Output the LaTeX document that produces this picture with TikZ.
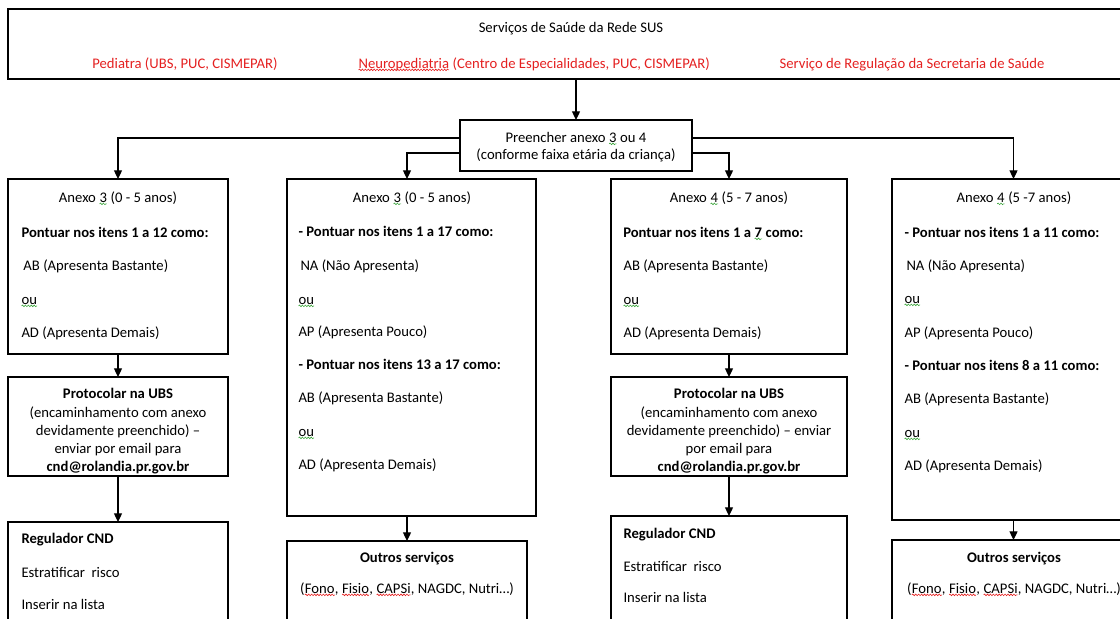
\documentclass[tikz,border=0pt]{standalone}
\usepackage{fontspec}
\setmainfont{Carlito}
\usetikzlibrary{arrows.meta,calc,decorations.pathmorphing}

\definecolor{susred}{RGB}{228,32,32}
\definecolor{spellred}{RGB}{230,30,30}
\definecolor{spellgreen}{RGB}{60,165,60}

\tikzset{every picture/.style={line width=0.75pt}}
\tikzset{
  pxbox/.style 2 args={draw, line width=0.9pt, minimum width=#1*0.75pt, minimum height=#2*0.75pt, anchor=north west, inner sep=0pt, outer sep=0pt},
  txt/.style={inner sep=0pt, text height=10pt, text depth=2.5pt, font=\fontsize{11}{13.4}\selectfont},
  txtl/.style={txt, anchor=west},
  arr/.style={-{Triangle[length=6.5pt,width=6pt]}, line width=0.9pt},
  sqword/.style={anchor=base, inner sep=0pt, outer sep=0pt, text height=, text depth=1.4pt, draw=none},
  sqline/.style={line width=0.45pt, decorate, decoration={snake, amplitude=0.6pt, segment length=2.2pt}}
}
% spell-check wave under a word
\newcommand\squig[2]{\tikz[baseline=(sq.base)]{\node[sqword] (sq) {#2};\draw[sqline,#1] (sq.south west) -- (sq.south east);}}

\begin{document}
\begin{tikzpicture}[x=0.75pt,y=0.75pt,yscale=-1,xscale=1]
\useasboundingbox (0,0) rectangle (1120,618);

%Shape: Rectangle
\node [pxbox={1127}{70}] (sus) at (8,9) {};
% Text Node
\node [txt] (susT) at (571,27) {Serviços de Saúde da Rede SUS};
% Text Node
\node [txt, text=susred] (ped) at (185,63) {Pediatra (UBS, PUC, CISMEPAR)};
% Text Node
\node [txt, text=susred] (neuro) at (534,63) {\squig{spellred}{Neuropediatria} (Centro de Especialidades, PUC, CISMEPAR)};
% Text Node
\node [txt, text=susred] (regul) at (912,63) {Serviço de Regulação da Secretaria de Saúde};

%Shape: Rectangle
\node [pxbox={232}{51}] (pre) at (460,120) {};
% Text Node
\node [txt] (preA) at (576,137) {Preencher anexo \squig{spellgreen}{3} ou 4};
% Text Node
\node [txt] (preB) at (576,154) {(conforme faixa etária da criança)};

%Shape: Rectangle
\node [pxbox={220}{175}] (ax1) at (8,179) {};
% Text Node
\node [txt] (ax1h) at (118,197) {Anexo \squig{spellgreen}{3} (0 - 5 anos)};
% Text Node
\node [txtl] (ax1a) at (21,232) {\textbf{Pontuar nos itens 1 a 12 como:}};
% Text Node
\node [txtl] (ax1b) at (23,265) {AB (Apresenta Bastante)};
% Text Node
\node [txtl] (ax1c) at (21,299) {\squig{spellgreen}{ou}};
% Text Node
\node [txtl] (ax1d) at (21,332) {AD (Apresenta Demais)};

%Shape: Rectangle
\node [pxbox={220}{99}] (pr1) at (8,377) {};
% Text Node
\node [txt] (pr1a) at (118,393) {\textbf{Protocolar na UBS}};
% Text Node
\node [txt] (pr1b) at (118,412) {(encaminhamento com anexo};
% Text Node
\node [txt] (pr1c) at (118,430) {devidamente preenchido) –};
% Text Node
\node [txt] (pr1d) at (118,448) {enviar por email para};
% Text Node
\node [txt] (pr1e) at (118,466) {\textbf{cnd@rolandia.pr.gov.br}};

%Shape: Rectangle
\node [pxbox={220}{110}] (rg1) at (8,522) {};
% Text Node
\node [txtl] (rg1a) at (21,538) {\textbf{Regulador CND}};
% Text Node
\node [txtl] (rg1b) at (21,572) {Estratificar~ risco};
% Text Node
\node [txtl] (rg1c) at (21,604) {Inserir na lista};

%Shape: Rectangle
\node [pxbox={249}{337}] (ax2) at (287,179) {};
% Text Node
\node [txt] (ax2h) at (412,197) {Anexo \squig{spellgreen}{3} (0 - 5 anos)};
% Text Node
\node [txtl] (ax2a) at (298,231) {\textbf{- Pontuar nos itens 1 a 17 como:}};
% Text Node
\node [txtl] (ax2b) at (300,265) {NA (Não Apresenta)};
% Text Node
\node [txtl] (ax2c) at (298,299) {\squig{spellgreen}{ou}};
% Text Node
\node [txtl] (ax2d) at (298,331) {AP (Apresenta Pouco)};
% Text Node
\node [txtl] (ax2e) at (298,364) {\textbf{- Pontuar nos itens 13 a 17 como:}};
% Text Node
\node [txtl] (ax2f) at (298,397) {AB (Apresenta Bastante)};
% Text Node
\node [txtl] (ax2g) at (298,431) {\squig{spellgreen}{ou}};
% Text Node
\node [txtl] (ax2i) at (298,464) {AD (Apresenta Demais)};

%Shape: Rectangle
\node [pxbox={240}{92}] (ot2) at (287,541) {};
% Text Node
\node [txt] (ot2a) at (407,557) {\textbf{Outros serviços}};
% Text Node
\node [txt] (ot2b) at (407,588) {(\squig{spellred}{Fono}, \squig{spellred}{Fisio}, \squig{spellred}{CAPSi}, NAGDC, Nutri…)};

%Shape: Rectangle
\node [pxbox={236}{175}] (ax3) at (611,179) {};
% Text Node
\node [txt] (ax3h) at (729,197) {Anexo \squig{spellgreen}{4} (5 - 7 anos)};
% Text Node
\node [txtl] (ax3a) at (623,232) {\textbf{Pontuar nos itens 1 a \squig{spellgreen}{7} como:}};
% Text Node
\node [txtl] (ax3b) at (623,265) {AB (Apresenta Bastante)};
% Text Node
\node [txtl] (ax3c) at (623,299) {\squig{spellgreen}{ou}};
% Text Node
\node [txtl] (ax3d) at (623,332) {AD (Apresenta Demais)};

%Shape: Rectangle
\node [pxbox={236}{99}] (pr3) at (611,377) {};
% Text Node
\node [txt] (pr3a) at (729,393) {\textbf{Protocolar na UBS}};
% Text Node
\node [txt] (pr3b) at (729,412) {(encaminhamento com anexo};
% Text Node
\node [txt] (pr3c) at (729,430) {devidamente preenchido) – enviar};
% Text Node
\node [txt] (pr3d) at (729,448) {por email para};
% Text Node
\node [txt] (pr3e) at (729,466) {\textbf{cnd@rolandia.pr.gov.br}};

%Shape: Rectangle
\node [pxbox={236}{116}] (rg3) at (611,516) {};
% Text Node
\node [txtl] (rg3a) at (623,533) {\textbf{Regulador CND}};
% Text Node
\node [txtl] (rg3b) at (623,566) {Estratificar~ risco};
% Text Node
\node [txtl] (rg3c) at (623,597) {Inserir na lista};

%Shape: Rectangle
\node [pxbox={243}{341}] (ax4) at (892,179) {};
% Text Node
\node [txt] (ax4h) at (1014,197) {Anexo \squig{spellgreen}{4} (5 -7 anos)};
% Text Node
\node [txtl] (ax4a) at (904,232) {\textbf{- Pontuar nos itens 1 a 11 como:}};
% Text Node
\node [txtl] (ax4b) at (906,265) {NA (Não Apresenta)};
% Text Node
\node [txtl] (ax4c) at (904,298) {\squig{spellgreen}{ou}};
% Text Node
\node [txtl] (ax4d) at (904,332) {AP (Apresenta Pouco)};
% Text Node
\node [txtl] (ax4e) at (904,365) {\textbf{- Pontuar nos itens 8 a 11 como:}};
% Text Node
\node [txtl] (ax4f) at (904,398) {AB (Apresenta Bastante)};
% Text Node
\node [txtl] (ax4g) at (904,432) {\squig{spellgreen}{ou}};
% Text Node
\node [txtl] (ax4i) at (904,465) {AD (Apresenta Demais)};

%Shape: Rectangle
\node [pxbox={243}{92}] (ot4) at (892,540) {};
% Text Node
\node [txt] (ot4a) at (1014,557) {\textbf{Outros serviços}};
% Text Node
\node [txt] (ot4b) at (1014,588) {(\squig{spellred}{Fono}, \squig{spellred}{Fisio}, \squig{spellred}{CAPSi}, NAGDC, Nutri…)};

%Straight Lines
\draw [arr] (pre.north |- sus.south) -- (pre.north);
%Straight Lines
\draw [arr] ($(pre.west)+(0,-7.5)$) -| (ax1.north);
%Straight Lines
\draw [arr] ($(pre.west)+(0,7.5)$) -| (ot2.north |- ax2.north);
%Straight Lines
\draw [arr] ($(pre.east)+(0,7.5)$) -| (ax3.north);
%Straight Lines
\draw [arr] ($(pre.east)+(0,-7.5)$) -| (ax4.north);
%Straight Lines
\draw [arr] (ax1.south) -- (pr1.north);
%Straight Lines
\draw [arr] (pr1.south) -- (rg1.north);
%Straight Lines
\draw [arr] (ot2.north |- ax2.south) -- (ot2.north);
%Straight Lines
\draw [arr] (ax3.south) -- (pr3.north);
%Straight Lines
\draw [arr] (pr3.south) -- (rg3.north);
%Straight Lines
\draw [arr] (ot4.north |- ax4.south) -- (ot4.north);

\end{tikzpicture}
\end{document}
